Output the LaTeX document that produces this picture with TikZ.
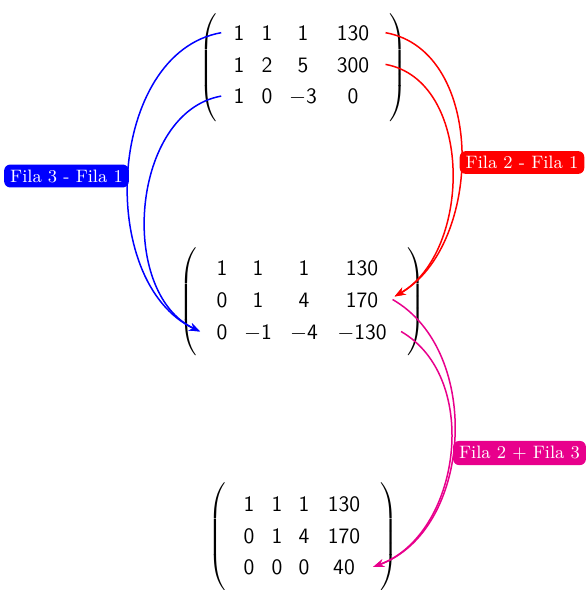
\documentclass[tikz,border=0pt]{standalone}
\usepackage{amsmath,amssymb}
\usepackage{tikz}
\usetikzlibrary{arrows.meta}
\definecolor{filamag}{RGB}{232,0,140}

\begin{document}
\begin{tikzpicture}[x=0.5pt, y=-0.5pt,
    cell/.style={inner sep=2pt, text height=7.6pt, text depth=0pt, font=\fontsize{11}{13}\selectfont\sffamily},
    paren/.style={inner sep=0pt},
    tag/.style={rounded corners=3pt, text=white, inner xsep=3pt, inner ysep=2.5pt, font=\fontsize{9}{11}\selectfont},
    link/.style={line width=0.75pt, -{Stealth[length=5.5pt, width=4pt]}},
]
\useasboundingbox (0,0) rectangle (585,590);

% first matrix
\node[paren] (m1l) at (209,68) {$\left(\vrule height 30pt depth 25pt width 0pt\right.$};
\node[paren] (m1r) at (397,68) {$\left.\vrule height 30pt depth 25pt width 0pt\right)$};
\foreach \a/\b/\c/\d [count=\r] in {1/1/1/130, 1/2/5/300, 1/0/{$-$3}/0} {
    \node[cell] (m1-\r-1) at (239, 1+31.7*\r) {\a};
    \node[cell] (m1-\r-2) at (267, 1+31.7*\r) {\b};
    \node[cell] (m1-\r-3) at (303, 1+31.7*\r) {\c};
    \node[cell] (m1-\r-4) at (353, 1+31.7*\r) {\d};
}

% second matrix
\node[paren] (m2l) at (189,302) {$\left(\vrule height 30pt depth 25pt width 0pt\right.$};
\node[paren] (m2r) at (415,302) {$\left.\vrule height 30pt depth 25pt width 0pt\right)$};
\foreach \a/\b/\c/\d [count=\r] in {1/1/1/130, 0/1/4/170, 0/{$-$1}/{$-$4}/{$-$130}} {
    \node[cell] (m2-\r-1) at (222, 235.5+32*\r) {\a};
    \node[cell] (m2-\r-2) at (258, 235.5+32*\r) {\b};
    \node[cell] (m2-\r-3) at (304, 235.5+32*\r) {\c};
    \node[cell] (m2-\r-4) at (362, 235.5+32*\r) {\d};
}

% third matrix
\node[paren] (m3l) at (218,537) {$\left(\vrule height 30pt depth 25pt width 0pt\right.$};
\node[paren] (m3r) at (388,537) {$\left.\vrule height 30pt depth 25pt width 0pt\right)$};
\foreach \a/\b/\c/\d [count=\r] in {1/1/1/130, 0/1/4/170, 0/0/0/40} {
    \node[cell] (m3-\r-1) at (249, 473+31.3*\r) {\a};
    \node[cell] (m3-\r-2) at (277, 473+31.3*\r) {\b};
    \node[cell] (m3-\r-3) at (304, 473+31.3*\r) {\c};
    \node[cell] (m3-\r-4) at (344, 473+31.3*\r) {\d};
}

% row operations
\draw[link, blue] ([xshift=-4pt]m1-1-1.west) .. controls +(-114,20) and +(-105,-49) .. ([xshift=-6pt]m2-3-1.west);
\draw[link, blue] ([xshift=-4pt]m1-3-1.west) .. controls +(-90,16) and +(-83,-39) .. ([xshift=-6pt]m2-3-1.west);
\draw[link, red] ([xshift=6pt]m1-1-4.east) .. controls +(101,18) and +(89,-51) .. ([xshift=6pt,yshift=1.5pt]m2-2-4.east);
\draw[link, red] ([xshift=6pt]m1-2-4.east) .. controls +(88,16) and +(78,-45) .. ([xshift=6pt,yshift=1.5pt]m2-2-4.east);
\draw[link, filamag] ([xshift=5pt]m2-2-4.east) .. controls +(91,52) and +(99,-36) .. ([xshift=7pt]m3-3-4.east);
\draw[link, filamag] ([xshift=5pt]m2-3-4.east) .. controls +(81,47) and +(87,-32) .. ([xshift=7pt]m3-3-4.east);

\node[tag, fill=blue] (op31) at (66.5,176) {Fila 3 - Fila 1};
\node[tag, fill=red] (op21) at (522,162.5) {Fila 2 - Fila 1};
\node[tag, fill=filamag] (op23) at (519.5,453) {Fila 2 + Fila 3};
\end{tikzpicture}
\end{document}
